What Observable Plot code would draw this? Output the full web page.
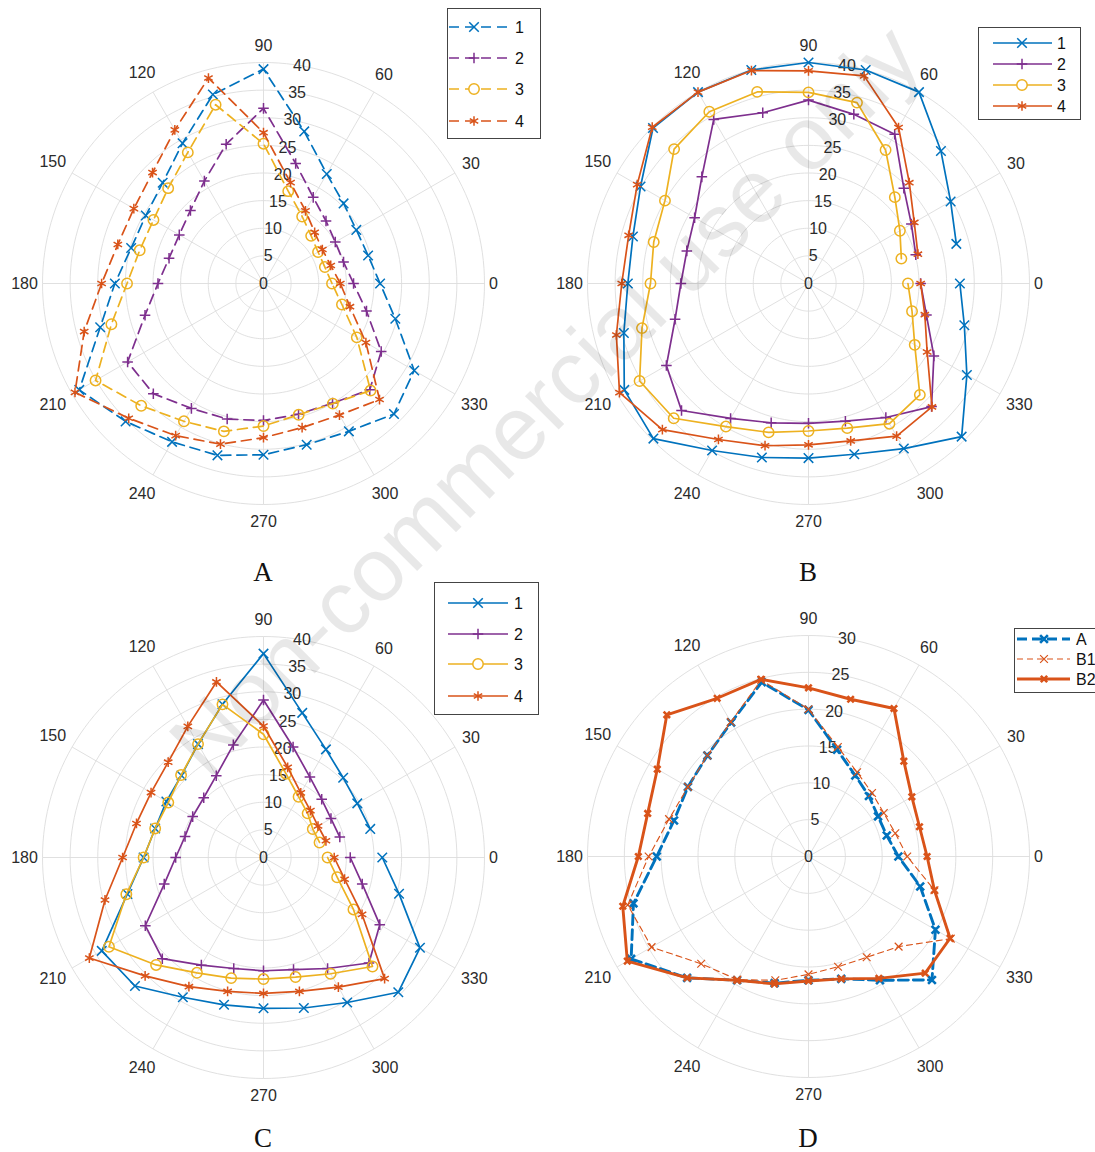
<!DOCTYPE html>
<html><head><meta charset="utf-8">
<script src="https://cdn.jsdelivr.net/npm/d3@7"></script>
<script src="https://cdn.jsdelivr.net/npm/@observablehq/plot@0.6"></script>
<style>
body{margin:0;background:#fff;}
#root{position:relative;width:1095px;height:1152px;overflow:hidden;font-family:"Liberation Sans",Arial,sans-serif;background:#fff;}
.panel{position:absolute;}
.plabel{position:absolute;font-family:"Liberation Serif","Times New Roman",serif;font-size:27px;color:#111;transform:translate(-50%,-50%);}
#wm{position:absolute;left:545px;top:400px;transform:translate(-50%,-50%) rotate(-45deg);font-size:90px;color:rgba(0,0,0,0.09);white-space:nowrap;font-family:"Liberation Sans",Arial,sans-serif;pointer-events:none;}
#legends{position:absolute;left:0;top:0;}
</style></head><body><div id="root"></div>
<script>
// ---------------- data ----------------
const ANG = [0,15,30,45,60,75,90,105,120,135,150,165,180,195,210,225,240,255,270,285,300,315,330,345];
const thetaTicks = [0,30,60,90,120,150,180,210,240,270,300,330];
const rTicks40 = [0,5,10,15,20,25,30,35,40];
const rTicks30 = [0,5,10,15,20,25,30];

// Panel A (dashed)
const A1 = [21.1,19.6,19.4,20.5,22.9,28.5,38.8,35.4,29.3,25.8,24.6,24.8,26.9,30.6,38.5,35.3,33.1,32.2,31.0,30.2,30.9,33.4,31.5,24.7];
const A2 = [16.3,15.0,15.0,16.0,18.0,22.5,31.7,26.1,21.4,18.7,17.6,17.7,19.1,22.2,28.4,28.2,26.1,25.4,24.8,24.5,25.0,27.2,24.6,19.3];
const A3 = [12.4,11.5,11.4,12.2,14.0,17.3,25.3,33.5,27.4,24.4,23.0,23.2,24.7,28.5,35.1,31.3,28.8,27.7,25.8,24.6,25.1,27.4,19.5,14.7];
const A4 = [13.9,12.6,12.3,13.1,15.2,18.9,27.3,38.5,32.1,28.4,27.1,27.3,29.3,33.6,39.4,34.5,31.8,30.1,27.9,27.0,27.5,29.7,21.4,16.2];
// Panel B
const B1 = [27.4,27.7,29.7,33.9,40.0,40.0,40.0,40.0,40.0,39.8,35.1,32.9,32.7,34.6,38.5,39.7,34.9,32.6,31.6,32.0,34.5,39.2,33.1,29.2];
const B2 = [20.3,20.1,21.5,24.4,31.2,31.7,33.2,32.0,34.3,27.3,23.8,22.8,23.1,25.0,29.7,32.5,28.2,26.1,25.3,25.8,28.0,31.5,26.2,22.1];
const B3 = [18.0,17.4,19.1,22.1,27.9,33.9,34.6,35.9,35.9,34.4,30.0,29.0,28.6,31.2,35.3,34.5,29.9,27.9,26.7,27.1,29.3,28.5,22.2,19.4];
const B4 = [20.3,20.5,22.1,25.8,32.6,38.9,38.5,39.9,40.0,40.0,35.8,33.7,33.8,36.0,39.5,37.4,32.6,30.4,29.2,29.5,31.9,31.6,24.8,21.8];
// Panel C
const C1 = [21.5,20.0,19.6,20.4,22.6,27.1,36.9,28.7,23.7,21.0,20.3,20.3,21.7,25.5,33.8,32.9,29.2,27.6,27.3,28.2,30.3,34.5,32.7,25.4];
const C2 = [15.7,14.3,14.1,14.9,16.8,20.7,28.5,21.1,17.1,15.3,14.8,14.7,15.9,18.6,24.7,25.9,22.5,20.8,20.5,21.0,23.2,27.0,24.3,18.5];
const C3 = [11.6,10.5,10.3,11.3,12.7,15.7,22.3,28.7,23.7,21.1,19.9,20.3,21.7,25.7,32.3,27.5,24.1,22.6,22.0,22.4,24.3,27.9,18.8,13.8];
const C4 = [12.8,11.7,11.4,12.0,13.5,16.9,23.8,32.9,27.4,24.4,23.5,23.8,25.5,29.7,36.4,30.3,27.0,25.1,24.6,25.1,27.1,31.0,20.6,15.2];
// Panel D
const DA  = [12.2,11.0,10.9,11.6,12.7,15.0,19.9,24.5,21.0,19.4,18.9,18.9,20.6,24.6,27.8,23.3,19.4,17.8,16.8,17.2,19.4,23.7,19.9,15.7];
const DB1 = [13.4,12.2,11.8,12.2,13.2,15.4,20.0,24.8,21.1,19.4,18.9,19.6,21.7,25.4,24.6,20.6,19.3,17.4,16.0,15.5,15.8,17.3,22.3,17.7];
const DB2 = [16.1,15.6,16.2,18.3,23.2,22.1,22.9,24.9,24.8,27.2,23.7,22.6,23.1,26.1,28.4,23.3,19.4,17.9,16.9,17.2,19.1,22.4,22.2,17.7];

const seriesNames4 = ["1","2","3","4"];
const seriesNamesD = ["A","B1","B2"];

// ---------------- styles ----------------
const BLUE="#0072BD", PURPLE="#7E2F8E", YELLOW="#EDB120", RED="#D95319";
const GRID="#dcdcdc", TXT="#2b2b2b";
const FS = 16;
const sym4 = [
  {symbol:"times", r:4.4, color:BLUE},
  {symbol:"plus", r:3.5, color:PURPLE},
  {symbol:"circle", r:5.2, color:YELLOW},
  {symbol:"asterisk", r:4.6, color:RED}
];

const rad = a => a*Math.PI/180;
const px = d => d.r*Math.cos(rad(d.a));
const py = d => d.r*Math.sin(rad(d.a));

function rows(values, closed){
  const pts = ANG.map((a,i)=>({a, r:values[i]}));
  const tail = {a:360, r:values[0]};
  return closed ? [...pts, tail] : [...pts.slice(1), tail];
}

function panel({rmax, rTicks, series, W, H, cx, cy}){
  const R = 221, k = R/rmax;
  const circles = rTicks.filter(t=>t>0).flatMap(t => d3.range(0,361,2).map(a=>({a, r:t, t})));
  const lblOff = a => {
    const w = String(a).length*8.9;
    return 4.6 + 0.5*w*Math.abs(Math.cos(rad(a))) + 12.4*Math.abs(Math.sin(rad(a)));
  };
  const marks = [
    Plot.line(circles, {x:px, y:py, z:"t", stroke:GRID, strokeWidth:0.9}),
    Plot.link(thetaTicks, {x1:()=>0, y1:()=>0, x2:a=>rmax*Math.cos(rad(a)), y2:a=>rmax*Math.sin(rad(a)), stroke:GRID, strokeWidth:0.9}),
    Plot.text(thetaTicks, {x:a=>(rmax+lblOff(a)/k)*Math.cos(rad(a)), y:a=>(rmax+lblOff(a)/k)*Math.sin(rad(a)),
      text:a=>String(a), fontSize:FS, fontFamily:"Liberation Sans, Arial, sans-serif", fill:TXT, textAnchor:"middle"}),
    Plot.text(rTicks, {x:t=>t*Math.cos(rad(80)), y:t=>t*Math.sin(rad(80)), text:t=>String(t),
      fontSize:FS, fontFamily:"Liberation Sans, Arial, sans-serif", fill:TXT, textAnchor:"middle"})
  ];
  for (const s of series){
    const data = rows(s.values, s.closed);
    marks.push(Plot.line(data, {x:px, y:py, stroke:s.color, strokeWidth:s.lw, strokeDasharray:s.dash || null, curve:"linear"}));
    marks.push(Plot.dot(data.slice(0, data.length-1).concat(s.closed?[]:[data[data.length-1]]),
      {x:px, y:py, symbol:s.symbol, r:s.r, stroke:s.color, strokeWidth:s.mw, fill:"none"}));
  }
  return Plot.plot({
    width:W, height:H, margin:0,
    x:{domain:[-cx/k, (W-cx)/k], axis:null},
    y:{domain:[-(H-cy)/k, cy/k], axis:null},
    style:{background:"transparent", overflow:"visible"},
    marks
  });
}

const root = document.getElementById("root");
function place(el, left, top){ el.classList.add("panel"); el.style.left=left+"px"; el.style.top=top+"px"; root.appendChild(el); }

const mk4 = (vals, dash, closed) => vals.map((v,i)=>({values:v, ...sym4[i], lw:1.7, mw:1.5, dash, closed}));

place(panel({rmax:40, rTicks:rTicks40, W:547, H:574, cx:263, cy:283, series:mk4([A1,A2,A3,A4], "10,6", true)}), 0, 0);
place(panel({rmax:40, rTicks:rTicks40, W:548, H:574, cx:261, cy:283, series:mk4([B1,B2,B3,B4], null, false)}), 547, 0);
place(panel({rmax:40, rTicks:rTicks40, W:547, H:578, cx:263, cy:283, series:mk4([C1,C2,C3,C4], null, false)}), 0, 574);
place(panel({rmax:30, rTicks:rTicks30, W:548, H:578, cx:261, cy:282, series:[
  {values:DA, color:BLUE, symbol:"times", r:3.6, lw:2.9, mw:2.6, dash:"10,5", closed:true},
  {values:DB1, color:RED, symbol:"times", r:3.6, lw:1.1, mw:1.2, dash:"6,4", closed:true},
  {values:DB2, color:RED, symbol:"times", r:3.0, lw:2.9, mw:2.6, dash:null, closed:true}
]}), 547, 574);

// panel letters
[["A",263,572],["B",808,572],["C",263,1138],["D",808,1138]].forEach(([t,x,y])=>{
  const d=document.createElement("div"); d.className="plabel"; d.textContent=t; d.style.left=x+"px"; d.style.top=y+"px"; root.appendChild(d);
});

// watermark
const wm=document.createElement("div"); wm.id="wm"; wm.textContent="Non-commercial use only"; root.appendChild(wm);

// legends
const svg = d3.select(root).append("svg").attr("id","legends").attr("width",1095).attr("height",1152);
function legend({box, ys, x0, x1, mx, lx, items}){
  const g = svg.append("g");
  g.append("rect").attr("x",box[0]+0.5).attr("y",box[1]+0.5).attr("width",box[2]).attr("height",box[3])
    .attr("fill","#fff").attr("stroke","#444").attr("stroke-width",1);
  items.forEach((it,i)=>{
    const y=ys[i];
    g.append("line").attr("x1",x0).attr("x2",x1).attr("y1",y).attr("y2",y)
      .attr("stroke",it.color).attr("stroke-width",it.lw).attr("stroke-dasharray",it.dash||null);
    const type = {times:d3.symbolTimes, plus:d3.symbolPlus, circle:d3.symbolCircle, asterisk:d3.symbolAsterisk}[it.symbol];
    g.append("path").attr("d",d3.symbol(type, Math.PI*it.r*it.r)()).attr("transform",`translate(${mx},${y})`)
      .attr("fill",it.symbol==="circle"?"#fff":"none").attr("stroke",it.color).attr("stroke-width",it.mw);
    g.append("text").attr("x",lx).attr("y",y).attr("dy","0.36em").attr("font-size",FS)
      .attr("font-family","Liberation Sans, Arial, sans-serif").attr("fill","#111").text(it.name);
  });
}
const items4 = dash => sym4.map((s,i)=>({...s, name:seriesNames4[i], lw:1.7, mw:1.5, dash}));
legend({box:[447,8,93,130], ys:[27,58,89,121], x0:449, x1:509, mx:474, lx:515, items:items4("10,6")});
legend({box:[978,27,102,92], ys:[43,64,85,106], x0:993, x1:1052, mx:1022, lx:1057, items:items4(null)});
legend({box:[434,582,104,132], ys:[603,634,664,696], x0:448, x1:508, mx:478, lx:514, items:items4(null)});
legend({box:[1014,628,90,64], ys:[639,659,679], x0:1017, x1:1070, mx:1044, lx:1076, items:[
  {name:seriesNamesD[0], color:BLUE, symbol:"times", r:3.6, lw:2.9, mw:2.6, dash:"10,5"},
  {name:seriesNamesD[1], color:RED, symbol:"times", r:3.6, lw:1.1, mw:1.2, dash:"6,4"},
  {name:seriesNamesD[2], color:RED, symbol:"times", r:3.0, lw:2.9, mw:2.6, dash:null}
]});
</script></body></html>
